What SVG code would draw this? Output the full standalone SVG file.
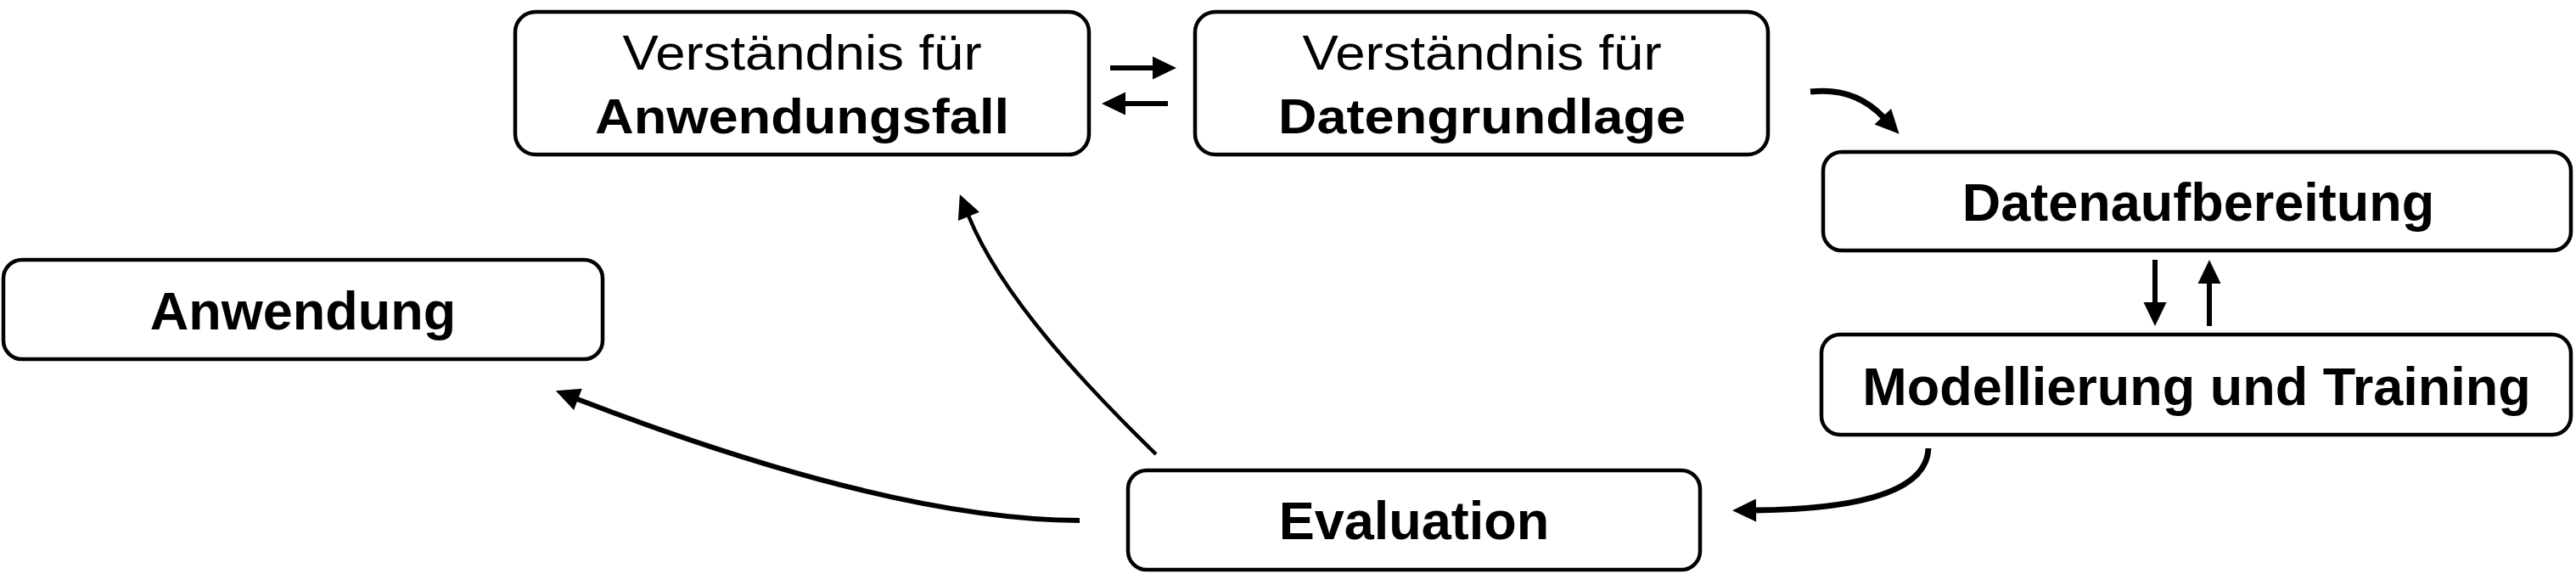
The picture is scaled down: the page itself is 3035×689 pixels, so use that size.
<svg xmlns="http://www.w3.org/2000/svg" width="3035" height="689" viewBox="0 0 3035 689">
<defs>
<style>
.box{fill:#fff;stroke:#000;stroke-width:4.5}
.t{font-family:"Liberation Sans",Arial,sans-serif;fill:#000;text-anchor:middle}
.b{font-weight:bold;font-size:63px}
.r{font-size:58px}
.rb{font-weight:bold;font-size:58px}
.c{fill:none;stroke:#000}
</style>
<marker id="ah" markerUnits="userSpaceOnUse" markerWidth="30" markerHeight="30" refX="1" refY="13.5" orient="auto" overflow="visible">
<path d="M0,0 L28,13.5 L0,27 Z" fill="#000"/>
</marker>
</defs>
<rect width="3035" height="689" fill="#fff"/>
<g id="n1">
<rect class="box" x="607" y="14" width="676" height="168" rx="24"/>
<text class="t r" x="945" y="82" textLength="423" lengthAdjust="spacingAndGlyphs">Verständnis für</text>
<text class="t rb" x="945" y="157" textLength="488" lengthAdjust="spacingAndGlyphs">Anwendungsfall</text>
</g>
<g id="n2">
<rect class="box" x="1408" y="14" width="675" height="168" rx="24"/>
<text class="t r" x="1746" y="82" textLength="423" lengthAdjust="spacingAndGlyphs">Verständnis für</text>
<text class="t rb" x="1746" y="157" textLength="480" lengthAdjust="spacingAndGlyphs">Datengrundlage</text>
</g>
<g id="n3">
<rect class="box" x="2148" y="179" width="881" height="116" rx="22"/>
<text class="t b" x="2590" y="260">Datenaufbereitung</text>
</g>
<g id="n4">
<rect class="box" x="2146" y="394" width="883" height="118" rx="22"/>
<text class="t b" x="2588" y="477">Modellierung und Training</text>
</g>
<g id="n5">
<rect class="box" x="4" y="306" width="706" height="117" rx="22"/>
<text class="t b" x="357" y="388">Anwendung</text>
</g>
<g id="n6">
<rect class="box" x="1329" y="554" width="674" height="117" rx="22"/>
<text class="t b" x="1666" y="635">Evaluation</text>
</g>
<g id="connectors">
<path class="c" stroke-width="6" d="M1308,80 H1359" marker-end="url(#ah)"/>
<path class="c" stroke-width="6" d="M1376,122 H1325" marker-end="url(#ah)"/>
<path class="c" stroke-width="6" d="M2539,306 V357" marker-end="url(#ah)"/>
<path class="c" stroke-width="6" d="M2603,384 V333" marker-end="url(#ah)"/>
<path class="c" stroke-width="7" d="M2133,108 Q2185,102 2219,138" marker-end="url(#ah)"/>
<path class="c" stroke-width="7" d="M2272,528 C2270,585 2170,600 2068,601" marker-end="url(#ah)"/>
<path class="c" stroke-width="6" d="M1272,613 Q1050,612 680,470" marker-end="url(#ah)"/>
<path class="c" stroke-width="4.5" d="M1362,535 C1280,455 1180,350 1141,254" marker-end="url(#ah)"/>
</g>
</svg>
